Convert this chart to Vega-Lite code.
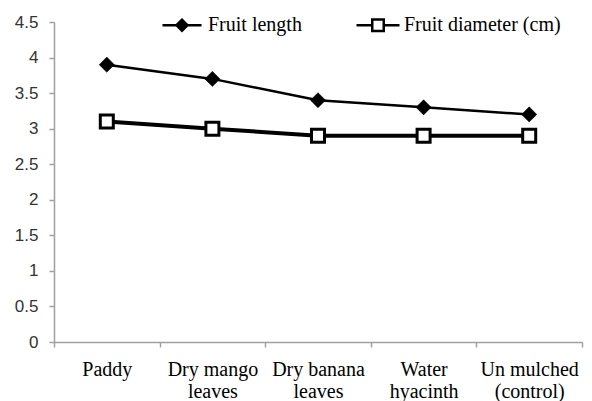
{
  "$schema": "https://vega.github.io/schema/vega-lite/v6.json",
  "width": 528,
  "height": 320,
  "autosize": {"type": "none"},
  "padding": {"left": 54, "top": 22, "right": 10, "bottom": 59},
  "background": "white",
  "config": {"view": {"stroke": null}},
  "data": {
    "values": [
      {"treatment": "Paddy", "series": "Fruit length", "value": 3.9},
      {"treatment": "Dry mango leaves", "series": "Fruit length", "value": 3.7},
      {"treatment": "Dry banana leaves", "series": "Fruit length", "value": 3.4},
      {"treatment": "Water hyacinth", "series": "Fruit length", "value": 3.3},
      {"treatment": "Un mulched (control)", "series": "Fruit length", "value": 3.2},
      {"treatment": "Paddy", "series": "Fruit diameter (cm)", "value": 3.1},
      {"treatment": "Dry mango leaves", "series": "Fruit diameter (cm)", "value": 3.0},
      {"treatment": "Dry banana leaves", "series": "Fruit diameter (cm)", "value": 2.9},
      {"treatment": "Water hyacinth", "series": "Fruit diameter (cm)", "value": 2.9},
      {"treatment": "Un mulched (control)", "series": "Fruit diameter (cm)", "value": 2.9}
    ]
  },
  "encoding": {
    "x": {
      "field": "treatment",
      "type": "nominal",
      "sort": null,
      "scale": {"type": "band", "paddingInner": 0, "paddingOuter": 0},
      "axis": {
        "title": null,
        "tickBand": "extent",
        "labelAngle": 0,
        "labelFont": "Liberation Serif",
        "labelFontSize": 20,
        "labelColor": "#000000",
        "labelLineHeight": 22,
        "labelPadding": 12,
        "labelLimit": 300,
        "labelOverlap": false,
        "tickSize": 5,
        "tickColor": "#a0a0a0",
        "tickWidth": 1.5,
        "domainColor": "#a0a0a0",
        "domainWidth": 1.5,
        "grid": false,
        "labelExpr": "indexof(datum.label, ' ') < 0 ? datum.label : [slice(datum.label, 0, lastindexof(datum.label, ' ')), slice(datum.label, lastindexof(datum.label, ' ') + 1)]"
      }
    },
    "y": {
      "field": "value",
      "type": "quantitative",
      "scale": {"domain": [0, 4.5], "nice": false, "zero": true},
      "axis": {
        "title": null,
        "values": [0, 0.5, 1, 1.5, 2, 2.5, 3, 3.5, 4, 4.5],
        "format": "~g",
        "labelFont": "Liberation Sans",
        "labelFontSize": 17,
        "labelColor": "#333333",
        "labelPadding": 11,
        "tickSize": 5,
        "tickColor": "#a0a0a0",
        "tickWidth": 1.5,
        "domainColor": "#a0a0a0",
        "domainWidth": 1.5,
        "grid": false
      }
    }
  },
  "layer": [
    {
      "transform": [{"filter": "datum.series == 'Fruit length'"}],
      "mark": {"type": "line", "color": "#000000", "strokeWidth": 2.5},
      "encoding": {}
    },
    {
      "transform": [{"filter": "datum.series == 'Fruit diameter (cm)'"}],
      "mark": {"type": "line", "color": "#000000", "strokeWidth": 4},
      "encoding": {}
    },
    {
      "mark": {"type": "point", "filled": true, "stroke": "#000000", "opacity": 1, "fillOpacity": 1},
      "encoding": {
        "fill": {
          "field": "series",
          "type": "nominal",
          "scale": {"domain": ["Fruit length", "Fruit diameter (cm)"], "range": ["#000000", "#ffffff"]},
          "legend": null
        },
        "strokeWidth": {"condition": {"test": "datum.series == 'Fruit length'", "value": 0.5}, "value": 3},
        "size": {"condition": {"test": "datum.series == 'Fruit length'", "value": 230}, "value": 169},
        "shape": {
          "field": "series",
          "type": "nominal",
          "scale": {"domain": ["Fruit length", "Fruit diameter (cm)"], "range": ["diamond", "square"]},
          "legend": null
        }
      }
    },
    {
      "mark": {"type": "point", "filled": true, "stroke": "#000000", "strokeWidth": 2.5, "size": 0, "opacity": 1, "fillOpacity": 1},
      "encoding": {
        "fill": {
          "field": "series",
          "type": "nominal",
          "scale": {"domain": ["Fruit length", "Fruit diameter (cm)"], "range": ["#000000", "#ffffff"]}
        },
        "shape": {
          "field": "series",
          "type": "nominal",
          "scale": {"domain": ["Fruit length", "Fruit diameter (cm)"], "range": ["M-3.9,0H3.9M-1.1,0L0,-1.1L1.1,0L0,1.1Z", "M-4.3,0H-1.15M1.15,0H4.3M-1.15,-1.15H1.15V1.15H-1.15Z"]},
          "legend": {
            "title": null,
            "orient": "none",
            "direction": "horizontal",
            "legendX": 118,
            "legendY": -7,
            "padding": 0,
            "symbolSize": 100,
            "symbolStrokeWidth": 2.5,
            "symbolOpacity": 1,
            "labelOffset": 16,
            "columnPadding": 49,
            "labelFont": "Liberation Serif",
            "labelFontSize": 20,
            "labelColor": "#000000",
            "labelLimit": 300
          }
        }
      }
    }
  ],
  "resolve": {"scale": {"shape": "independent", "fill": "independent"}}
}
